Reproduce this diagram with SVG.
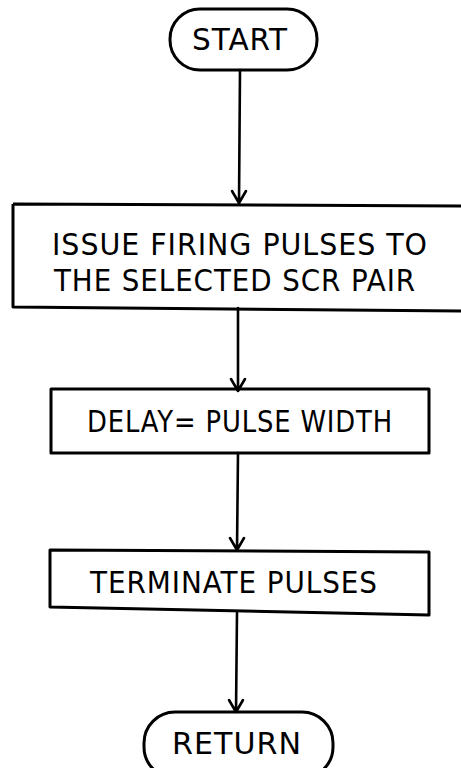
<svg xmlns="http://www.w3.org/2000/svg" width="461" height="768" viewBox="0 0 461 768">
<style>
.shape{fill:none;stroke:#000;stroke-width:3;stroke-linejoin:round}
.conn{fill:none;stroke:#000;stroke-width:2.6;stroke-linecap:round;stroke-linejoin:round}
.t{font-family:"DejaVu Sans","Liberation Sans",sans-serif;font-size:30px;fill:#000;letter-spacing:1px}
</style>
<rect width="461" height="768" fill="#fff"/>
<g id="start">
<rect class="shape" x="170" y="9" width="147" height="61" rx="30" ry="30"/>
<text class="t" x="192" y="50" textLength="96" lengthAdjust="spacingAndGlyphs">START</text>
</g>
<g id="issue">
<path class="shape" d="M13 204 L463 206 M463 311 L13 307 L13 204"/>
<text class="t" x="52" y="255" textLength="376" lengthAdjust="spacingAndGlyphs">ISSUE FIRING PULSES TO</text>
<text class="t" x="54" y="291" textLength="362" lengthAdjust="spacingAndGlyphs">THE SELECTED SCR PAIR</text>
</g>
<g id="delay">
<rect class="shape" x="51" y="389" width="378" height="64"/>
<text class="t" x="87" y="432" textLength="306" lengthAdjust="spacingAndGlyphs">DELAY= PULSE WIDTH</text>
</g>
<g id="terminate">
<path class="shape" d="M50 550 L429 552 L429 615 L50 607 Z"/>
<text class="t" x="90" y="593" textLength="288" lengthAdjust="spacingAndGlyphs">TERMINATE PULSES</text>
</g>
<g id="return">
<rect class="shape" x="144" y="712" width="189" height="66" rx="31" ry="31"/>
<text class="t" x="172" y="754" textLength="130" lengthAdjust="spacingAndGlyphs">RETURN</text>
</g>
<g id="connectors">
<path class="conn" d="M240 70 L239 203 M232 191 L239 203 L246 191"/>
<path class="conn" d="M238 308 L238 391 M231 379 L238 391 L245 379"/>
<path class="conn" d="M238 453 L237 550 M230 538 L237 550 L244 538"/>
<path class="conn" d="M237 613 L236 712 M229 700 L236 712 L243 700"/>
</g>
</svg>
